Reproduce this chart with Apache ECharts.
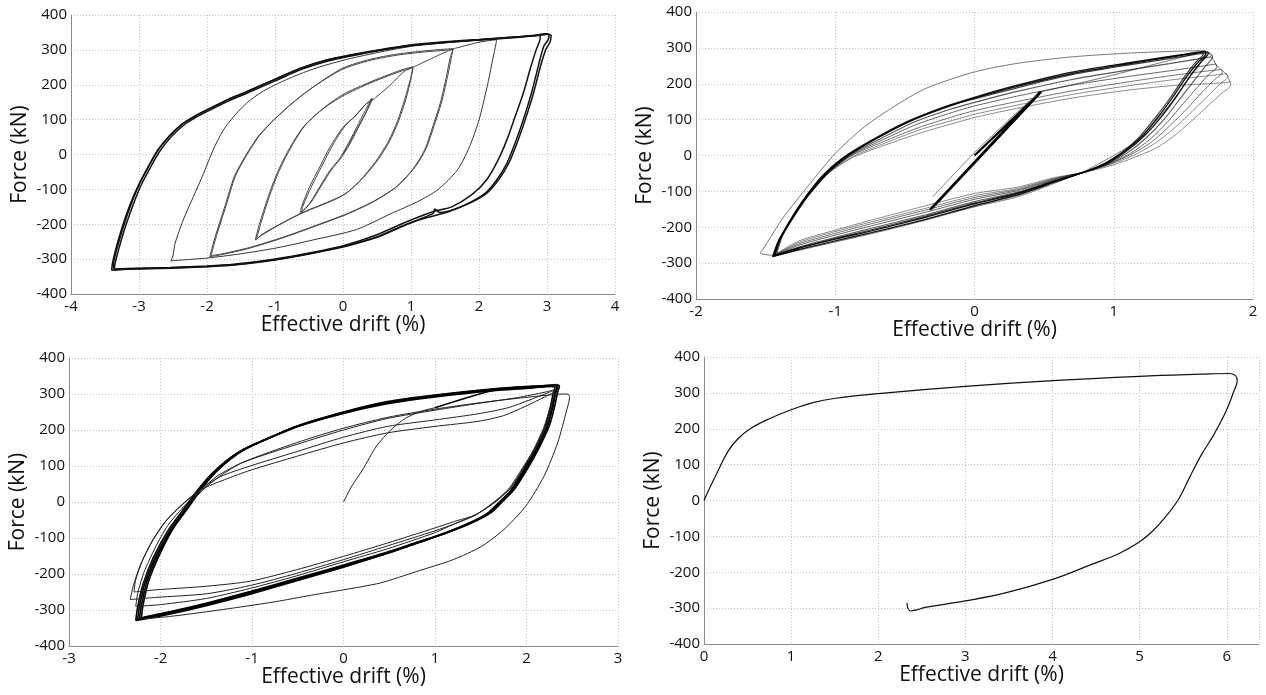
<!DOCTYPE html>
<html>
<head>
<meta charset="utf-8">
<script src="https://cdn.jsdelivr.net/npm/echarts@6/dist/echarts.min.js"></script>
<style>
  html, body { margin: 0; padding: 0; background: #fff; }
  #chart { width: 1266px; height: 695px; }
</style>
</head>
<body>
<div id="chart"></div>
<script>
// ---------- Tick values for each panel ----------
const xTicksA = [-4, -3, -2, -1, 0, 1, 2, 3, 4];
const xTicksB = [-2, -1, 0, 1, 2];
const xTicksC = [-3, -2, -1, 0, 1, 2, 3];
const xTicksD = [0, 1, 2, 3, 4, 5, 6];
const xMaxD = 6.37;
const forceTicks = [-400, -300, -200, -100, 0, 100, 200, 300, 400];

// ---------- Panel A: increasing-amplitude cycles [drift %, force kN] ----------
const aLoop1a = [[0,0],[0.2,70],[0.35,125],[0.42,161],[0.37,142],[0.23,89],[0.08,32],[-0.05,-12],[-0.19,-45],[-0.34,-92],[-0.49,-140],[-0.63,-169],[-0.61,-150],[-0.49,-92],[-0.34,-35],[-0.19,22],[0,78],[0.18,110],[0.32,142],[0.44,160]];
const aLoop1b = [[0.44,160],[0.39,140],[0.25,87],[0.1,30],[-0.03,-10],[-0.17,-44],[-0.32,-90],[-0.47,-137],[-0.61,-167],[-0.59,-148],[-0.46,-90],[-0.31,-33],[-0.16,24],[0.03,82],[0.2,114],[0.34,145],[0.45,158]];
const aLoop2a = [[0.45,158],[0.7,200],[0.9,238],[1.03,250],[0.99,215],[0.91,160],[0.8,95],[0.66,35],[0.48,-20],[0.25,-75],[0.02,-115],[-0.25,-140],[-0.6,-168],[-0.95,-203],[-1.2,-232],[-1.29,-245],[-1.23,-200],[-1.1,-121],[-0.97,-54],[-0.8,13],[-0.58,80],[-0.3,130],[0,168],[0.4,205],[0.7,228],[0.9,242],[1.03,250]];
const aLoop2b = [[1.03,250],[1.0,218],[0.93,162],[0.82,97],[0.68,36],[0.5,-19],[0.27,-72],[0.04,-112],[-0.23,-137],[-0.58,-165],[-0.93,-200],[-1.19,-229],[-1.27,-243],[-1.21,-198],[-1.08,-119],[-0.95,-52],[-0.78,15],[-0.56,83],[-0.28,134],[0,172],[0.4,208],[0.7,231],[0.9,245],[1.05,252]];
const aLoop3a = [[1.05,252],[1.3,275],[1.5,293],[1.62,302],[1.58,281],[1.52,223],[1.43,147],[1.32,80],[1.2,13],[1.02,-44],[0.77,-95],[0.45,-135],[0.05,-172],[-0.4,-205],[-0.9,-240],[-1.4,-270],[-1.8,-288],[-1.96,-293],[-1.88,-236],[-1.74,-150],[-1.6,-64],[-1.44,-6],[-1.25,51],[-1.02,99],[-0.73,150],[-0.39,200],[0,245],[0.4,270],[0.8,285],[1.2,294],[1.5,299],[1.62,302]];
const aLoop3b = [[1.62,302],[1.6,284],[1.54,226],[1.45,150],[1.34,83],[1.22,16],[1.04,-41],[0.79,-92],[0.47,-132],[0.07,-169],[-0.38,-202],[-0.88,-237],[-1.38,-267],[-1.78,-285],[-1.94,-290],[-1.86,-233],[-1.72,-147],[-1.58,-61],[-1.42,-3],[-1.23,54],[-1.0,102],[-0.71,153],[-0.37,203],[0,248],[0.4,273],[0.8,288],[1.2,297],[1.5,302],[1.64,304]];
const aLoop4 = [[1.64,304],[2.0,322],[2.2,328],[2.26,329],[2.25,318],[2.2,271],[2.12,195],[2.0,99],[1.86,22],[1.68,-45],[1.4,-100],[1.1,-135],[0.7,-170],[0.2,-215],[-0.44,-245],[-0.98,-268],[-1.51,-285],[-2.0,-297],[-2.4,-303],[-2.53,-305],[-2.5,-290],[-2.47,-255],[-2.35,-188],[-2.2,-121],[-2.05,-54],[-1.91,13],[-1.76,70],[-1.61,108],[-1.42,147],[-1.17,182],[-0.83,215],[-0.44,245],[0,270],[0.5,292],[1.0,310],[1.5,320],[2.0,328],[2.5,336],[2.85,342]];
const aOuter1 = [[2.85,342],[2.97,346],[3.03,344],[3.02,330],[2.95,309],[2.87,252],[2.77,175],[2.65,99],[2.53,32],[2.41,-25],[2.26,-73],[2.09,-111],[1.84,-140],[1.55,-164],[1.11,-188],[0.86,-207],[0.52,-236],[0.03,-264],[-0.44,-283],[-1.02,-303],[-1.61,-317],[-2.0,-322],[-2.54,-326],[-3.18,-329],[-3.35,-331],[-3.38,-322],[-3.33,-274],[-3.23,-207],[-3.11,-140],[-2.99,-83],[-2.86,-35],[-2.72,13],[-2.54,56],[-2.35,89],[-2.15,113],[-2.0,128],[-1.71,156],[-1.42,180],[-1.02,214],[-0.63,247],[-0.24,271],[0.1,285],[0.5,299],[1.0,314],[1.5,323],[2.0,330],[2.5,337],[2.8,340],[2.9,342]];
const aOuter2 = [[2.9,342],[2.9,333],[2.84,300],[2.76,250],[2.65,175],[2.53,108],[2.41,42],[2.28,-16],[2.11,-73],[1.89,-116],[1.6,-150],[1.35,-162],[1.1,-180],[0.85,-200],[0.5,-230],[0.03,-260],[-0.44,-280],[-1.02,-300],[-1.61,-315],[-2.0,-320],[-2.54,-324],[-3.18,-327],[-3.36,-328],[-3.36,-325],[-3.31,-280],[-3.21,-213],[-3.09,-146],[-2.97,-88],[-2.84,-40],[-2.7,8],[-2.52,52],[-2.33,86],[-2.13,110],[-1.98,125],[-1.69,153],[-1.4,177],[-1.0,211],[-0.61,244],[-0.22,268],[0.1,282],[0.5,297],[1.0,312],[1.5,321],[2.0,328],[2.5,335],[2.85,342],[3.0,345],[3.06,343]];
const aOuter3 = [[3.06,343],[3.05,325],[2.98,300],[2.9,250],[2.8,175],[2.68,100],[2.56,33],[2.44,-24],[2.29,-72],[2.12,-110],[1.88,-138],[1.58,-161],[1.42,-166],[1.35,-156],[1.33,-168],[1.12,-186],[0.87,-205],[0.53,-234],[0.04,-262],[-0.43,-282],[-1.01,-302],[-1.6,-316],[-2.0,-321],[-2.54,-325],[-3.18,-328],[-3.4,-332],[-3.4,-328],[-3.35,-278],[-3.25,-210],[-3.13,-143],[-3.0,-85],[-2.87,-37],[-2.73,11],[-2.55,54],[-2.36,88],[-2.16,112],[-2.01,127],[-1.72,155],[-1.43,179],[-1.03,213],[-0.64,246],[-0.25,270],[0.1,284],[0.5,298],[1.0,313],[1.5,322],[2.0,329],[2.5,336],[2.9,343],[2.98,344]];

// ---------- Panel B: constant-amplitude cycles with strength decay ----------
const bElastic = [[0,0],[0.48,178],[-0.32,-151],[0.47,176],[-0.31,-149],[0.48,178],[-0.32,-151],[0.47,177]];
const bElasticThin = [[-0.3,-115],[0,8],[0.2,82],[0.36,140],[0.45,168]];
const bFirst = [[0.47,177],[0.9,215],[1.3,255],[1.5,275],[1.6,286],[1.65,289],[1.66,280],[1.6,250],[1.52,205],[1.42,150],[1.3,95],[1.16,40],[1.0,0],[0.85,-32],[0.78,-46],[0.57,-78],[0.31,-115],[0,-143],[-0.35,-180],[-0.74,-218],[-1.0,-241],[-1.26,-264],[-1.45,-278],[-1.54,-272],[-1.52,-262],[-1.37,-171],[-1.18,-78],[-1.0,6],[-0.79,80],[-0.58,136],[-0.35,187],[0,233],[0.31,257],[0.7,275],[1.09,285],[1.4,290],[1.61,292],[1.67,290]];
const bCycle1 = [[1.67,290],[1.68,286],[1.63,262],[1.55,222],[1.46,170],[1.35,112],[1.22,55],[1.09,12],[0.96,-20],[0.8,-44],[0.57,-75],[0.31,-110],[0,-140],[-0.35,-178],[-0.74,-215],[-1.0,-238],[-1.26,-262],[-1.45,-282],[-1.41,-240],[-1.33,-185],[-1.24,-130],[-1.1,-60],[-0.95,-8],[-0.75,40],[-0.48,95],[-0.22,135],[0,162],[0.3,195],[0.7,232],[1.1,258],[1.4,276],[1.6,288],[1.66,291]];
const bCycle2 = [[1.66,291],[1.66,283],[1.6,258],[1.52,218],[1.43,166],[1.32,108],[1.2,52],[1.07,10],[0.95,-20],[0.8,-45],[0.57,-73],[0.31,-106],[0,-135],[-0.35,-172],[-0.74,-210],[-1.0,-233],[-1.26,-258],[-1.44,-280],[-1.4,-236],[-1.32,-180],[-1.23,-125],[-1.08,-55],[-0.93,-5],[-0.73,42],[-0.46,96],[-0.2,135],[0,160],[0.3,192],[0.7,228],[1.1,255],[1.4,274],[1.6,286],[1.65,289]];
const bCycle3 = [[1.65,289],[1.64,280],[1.58,256],[1.5,215],[1.41,163],[1.3,106],[1.18,50],[1.06,9],[0.94,-21],[0.8,-45],[0.57,-72],[0.31,-104],[0,-132],[-0.35,-169],[-0.74,-207],[-1.0,-231],[-1.26,-257],[-1.44,-281],[-1.4,-238],[-1.32,-182],[-1.22,-124],[-1.07,-54],[-0.92,-4],[-0.72,44],[-0.45,99],[-0.19,138],[0,158],[0.3,188],[0.7,225],[1.1,252],[1.4,270],[1.62,284],[1.68,287]];
const bCycle4 = [[1.68,287],[1.71,275],[1.65,245],[1.57,205],[1.47,155],[1.36,100],[1.23,48],[1.1,8],[0.96,-22],[0.8,-45],[0.57,-70],[0.31,-102],[0,-128],[-0.35,-165],[-0.74,-203],[-1.0,-228],[-1.26,-255],[-1.44,-279],[-1.4,-233],[-1.31,-175],[-1.21,-118],[-1.06,-50],[-0.9,0],[-0.7,42],[-0.44,92],[-0.18,128],[0,148],[0.3,178],[0.7,212],[1.1,238],[1.4,256],[1.62,270],[1.7,275]];
const bCycle5 = [[1.7,275],[1.74,247],[1.68,225],[1.6,190],[1.5,145],[1.39,95],[1.26,45],[1.12,6],[0.97,-22],[0.8,-45],[0.57,-68],[0.31,-98],[0,-122],[-0.35,-158],[-0.74,-196],[-1.0,-222],[-1.26,-250],[-1.43,-278],[-1.39,-230],[-1.3,-172],[-1.2,-115],[-1.05,-48],[-0.89,0],[-0.68,40],[-0.42,86],[-0.16,120],[0,138],[0.3,165],[0.7,196],[1.1,220],[1.4,236],[1.65,250],[1.73,255]];
const bCycle6 = [[1.73,255],[1.78,232],[1.72,210],[1.63,175],[1.53,132],[1.41,86],[1.28,40],[1.13,4],[0.98,-22],[0.8,-45],[0.57,-66],[0.31,-95],[0,-117],[-0.35,-152],[-0.74,-190],[-1.0,-217],[-1.26,-246],[-1.43,-276],[-1.39,-228],[-1.3,-170],[-1.2,-113],[-1.05,-47],[-0.88,0],[-0.67,36],[-0.4,78],[-0.14,110],[0,125],[0.3,150],[0.7,180],[1.1,205],[1.4,222],[1.68,236],[1.77,240]];
const bCycle7 = [[1.77,240],[1.82,220],[1.76,198],[1.67,164],[1.56,122],[1.44,78],[1.3,35],[1.15,2],[0.99,-23],[0.8,-45],[0.57,-64],[0.31,-92],[0,-112],[-0.35,-147],[-0.74,-185],[-1.0,-212],[-1.26,-242],[-1.42,-275],[-1.38,-226],[-1.29,-168],[-1.19,-112],[-1.04,-47],[-0.87,-2],[-0.66,32],[-0.39,72],[-0.12,102],[0,115],[0.3,140],[0.7,170],[1.1,194],[1.4,210],[1.72,224],[1.81,228]];
const bCycle8 = [[1.81,228],[1.84,196],[1.78,175],[1.68,140],[1.57,100],[1.45,60],[1.31,22],[1.15,-5],[0.99,-27],[0.8,-46],[0.57,-62],[0.31,-88],[0,-106],[-0.35,-140],[-0.74,-180],[-1.0,-208],[-1.26,-238],[-1.42,-273],[-1.38,-224],[-1.29,-166],[-1.19,-110],[-1.04,-46],[-0.86,-3],[-0.65,28],[-0.38,64],[-0.1,95],[0,106],[0.3,131],[0.7,160],[1.1,182],[1.4,194],[1.75,202],[1.84,205]];

// ---------- Panel C: repeated cycles at about ±2.3 % ----------
const cInitial = [[0,0],[0.09,44],[0.21,90],[0.36,155],[0.52,201],[0.68,233],[0.85,252],[1.0,262]];
const cOuter1 = [[1.0,262],[1.67,312],[2.07,319],[2.3,323],[2.34,321],[2.32,303],[2.29,266],[2.23,210],[2.11,145],[1.99,90],[1.85,34],[1.71,-3],[1.59,-31],[1.39,-58],[1.12,-86],[0.8,-114],[0.48,-142],[0,-179],[-0.51,-216],[-1.02,-253],[-1.5,-285],[-1.89,-308],[-2.17,-322],[-2.25,-327],[-2.23,-290],[-2.17,-225],[-2.05,-151],[-1.89,-77],[-1.73,-21],[-1.58,34],[-1.42,81],[-1.26,118],[-1.1,145],[-0.86,173],[-0.51,210],[0,247],[0.48,275],[1.0,294],[1.67,312],[2.07,319],[2.28,321]];
const cOuter2 = [[2.28,321],[2.31,317],[2.29,300],[2.26,262],[2.2,206],[2.08,140],[1.96,85],[1.82,30],[1.68,-6],[1.56,-34],[1.36,-60],[1.1,-87],[0.8,-112],[0.48,-139],[0,-175],[-0.51,-212],[-1.02,-249],[-1.5,-281],[-1.89,-304],[-2.15,-318],[-2.21,-322],[-2.19,-285],[-2.13,-220],[-2.01,-146],[-1.86,-73],[-1.7,-17],[-1.55,37],[-1.39,84],[-1.23,120],[-1.07,147],[-0.83,175],[-0.48,211],[0,246],[0.48,273],[1.0,292],[1.67,310],[2.07,317],[2.33,326]];
const cOuter3 = [[2.33,326],[2.36,322],[2.34,305],[2.31,268],[2.25,212],[2.13,147],[2.01,92],[1.87,36],[1.73,-1],[1.61,-30],[1.41,-57],[1.14,-85],[0.82,-113],[0.5,-141],[0,-181],[-0.51,-219],[-1.02,-256],[-1.5,-288],[-1.89,-311],[-2.17,-325],[-2.27,-329],[-2.25,-292],[-2.19,-228],[-2.08,-155],[-1.92,-80],[-1.76,-24],[-1.6,31],[-1.44,78],[-1.28,115],[-1.12,142],[-0.88,171],[-0.53,208],[0,250],[0.48,279],[1.0,297],[1.67,315],[2.07,322],[2.32,325]];
const cOuter4 = [[2.32,325],[2.33,318],[2.31,300],[2.28,264],[2.22,208],[2.1,143],[1.98,88],[1.84,32],[1.7,-4],[1.58,-32],[1.38,-59],[1.11,-86],[0.81,-113],[0.49,-140],[0,-177],[-0.51,-214],[-1.02,-251],[-1.5,-283],[-1.89,-306],[-2.16,-320],[-2.23,-324],[-2.21,-288],[-2.15,-222],[-2.03,-148],[-1.88,-75],[-1.72,-19],[-1.57,35],[-1.41,82],[-1.25,119],[-1.09,146],[-0.85,174],[-0.5,212],[0,249],[0.48,277],[1.0,296],[1.67,314],[2.07,321],[2.31,324]];
const cInner1 = [[2.32,325],[2.3,305],[2.28,270],[2.22,215],[2.1,150],[1.97,95],[1.83,40],[1.65,0],[1.45,-35],[1.2,-55],[1.0,-72],[0.48,-114],[0,-151],[-0.51,-188],[-1.02,-220],[-1.5,-234],[-2.05,-244],[-2.29,-250],[-2.27,-215],[-2.2,-165],[-2.08,-105],[-1.93,-50],[-1.75,-5],[-1.55,35],[-1.3,62],[-1.02,88],[-0.51,127],[0,164],[0.48,192],[1.0,210],[1.47,224],[1.75,240],[1.99,266],[2.2,292],[2.3,305]];
const cInner2 = [[2.3,305],[2.3,300],[2.26,265],[2.19,208],[2.07,142],[1.94,88],[1.8,35],[1.63,-3],[1.43,-38],[1.2,-62],[1.0,-80],[0.48,-122],[0,-160],[-0.51,-198],[-1.02,-232],[-1.5,-255],[-2.05,-265],[-2.33,-271],[-2.3,-235],[-2.22,-175],[-2.1,-112],[-1.95,-55],[-1.77,-8],[-1.58,32],[-1.35,70],[-1.02,100],[-0.51,140],[0,180],[0.48,210],[1.0,228],[1.47,245],[1.8,262],[2.05,285],[2.28,308]];
const cInner3 = [[2.28,308],[2.31,305],[2.28,275],[2.22,218],[2.1,152],[1.97,96],[1.83,40],[1.66,0],[1.46,-33],[1.2,-62],[1.0,-85],[0.48,-130],[0,-166],[-0.51,-205],[-1.02,-240],[-1.5,-268],[-2.0,-285],[-2.27,-290],[-2.25,-255],[-2.18,-195],[-2.06,-128],[-1.92,-65],[-1.75,-14],[-1.57,30],[-1.38,72],[-1.1,110],[-0.51,160],[0,200],[0.48,232],[1.0,255],[1.5,275],[1.9,290],[2.2,305],[2.3,312]];
const cWide = [[-2.25,-300],[-2.22,-260],[-2.15,-200],[-2.03,-135],[-1.9,-75],[-1.73,-20],[-1.55,30],[-1.35,72],[-1.1,110],[-0.51,165],[0,205],[0.48,235],[1.0,258],[1.5,276],[1.9,288],[2.2,296],[2.4,300],[2.46,299],[2.47,290],[2.44,256],[2.34,164],[2.19,71],[1.99,-12],[1.75,-77],[1.51,-123],[1.2,-160],[0.8,-193],[0.4,-225],[0,-244],[-0.31,-257],[-0.7,-275],[-1.0,-287],[-1.5,-305],[-1.9,-318],[-2.2,-325]];

// ---------- Panel D: single large excursion ----------
const dPath = [[0,0],[0.065,35],[0.16,82],[0.275,137],[0.39,172],[0.53,200],[0.75,228],[1.0,253],[1.25,273],[1.51,285],[2.0,298],[3.0,318],[4.0,334],[5.0,346],[5.71,352],[6.03,354],[6.1,348],[6.12,334],[6.08,304],[5.99,248],[5.85,183],[5.71,128],[5.57,63],[5.45,5],[5.3,-45],[5.15,-85],[5.0,-115],[4.77,-147],[4.45,-178],[4.0,-220],[3.47,-257],[3.0,-280],[2.54,-298],[2.44,-305],[2.37,-308],[2.34,-300],[2.33,-286]];

// ---------- Drawing ----------
const FONT = '"Open Sans", "DejaVu Sans", sans-serif';
const gridBoxes = [
  { left: 71,  top: 15,  width: 544, height: 279 },
  { left: 696, top: 12,  width: 557, height: 287 },
  { left: 69,  top: 358, width: 549, height: 288 },
  { left: 704, top: 357, width: 555, height: 287 }
];
const xRanges = [
  [xTicksA[0], xTicksA[xTicksA.length - 1]],
  [xTicksB[0], xTicksB[xTicksB.length - 1]],
  [xTicksC[0], xTicksC[xTicksC.length - 1]],
  [xTicksD[0], xMaxD]
];

const axisLineStyle = { show: true, onZero: false, lineStyle: { color: '#8a8a8a', width: 1 } };
const splitStyle = { show: true, lineStyle: { color: '#c4c4c4', width: 1, type: [1, 2] } };
const labelStyle = { color: '#111', fontSize: 15, fontFamily: FONT };

const xAxes = xRanges.map((r, i) => ({
  type: 'value', gridIndex: i, min: r[0], max: r[1], interval: 1,
  axisLine: axisLineStyle, axisTick: { show: false }, splitLine: splitStyle,
  axisLabel: Object.assign({ margin: 5, showMaxLabel: i !== 3 }, labelStyle),
  name: 'Effective drift (%)', nameLocation: 'middle', nameGap: 20,
  nameTextStyle: { color: '#111', fontSize: 21, fontFamily: FONT }
}));
const yAxes = gridBoxes.map((g, i) => ({
  type: 'value', gridIndex: i, min: forceTicks[0], max: forceTicks[forceTicks.length - 1], interval: 100,
  axisLine: axisLineStyle, axisTick: { show: false }, splitLine: splitStyle,
  axisLabel: Object.assign({ margin: 4 }, labelStyle),
  name: 'Force (kN)', nameLocation: 'middle', nameGap: 40,
  nameTextStyle: { color: '#111', fontSize: 21, fontFamily: FONT }
}));

function curve(data, gi, width, color, smooth) {
  return {
    type: 'line', xAxisIndex: gi, yAxisIndex: gi, data: data,
    showSymbol: false, symbol: 'none', smooth: smooth === undefined ? 0.25 : smooth, silent: true,
    lineStyle: { width: width, color: color }
  };
}

const series = [
  // Panel A
  curve(aLoop1a, 0, 1, '#444'), curve(aLoop1b, 0, 1, '#444'),
  curve(aLoop2a, 0, 1, '#444'), curve(aLoop2b, 0, 1, '#444'),
  curve(aLoop3a, 0, 1, '#444'), curve(aLoop3b, 0, 1, '#444'),
  curve(aLoop4, 0, 1, '#333'),
  curve(aOuter1, 0, 1.5, '#111'), curve(aOuter2, 0, 1.5, '#111'), curve(aOuter3, 0, 1.5, '#111'),
  // Panel B
  curve(bElastic, 1, 2.2, '#000'), curve(bElasticThin, 1, 0.8, '#666'),
  curve(bFirst, 1, 0.8, '#555'),
  curve(bCycle1, 1, 1.4, 'rgba(0,0,0,0.9)'), curve(bCycle2, 1, 1.4, 'rgba(0,0,0,0.9)'),
  curve(bCycle3, 1, 1.2, 'rgba(0,0,0,0.75)'), curve(bCycle4, 1, 1.1, 'rgba(0,0,0,0.65)'),
  curve(bCycle5, 1, 1, 'rgba(0,0,0,0.6)'), curve(bCycle6, 1, 1, 'rgba(0,0,0,0.55)'),
  curve(bCycle7, 1, 0.9, 'rgba(0,0,0,0.5)'), curve(bCycle8, 1, 0.9, 'rgba(0,0,0,0.5)'),
  // Panel C
  curve(cInitial, 2, 1, '#222'),
  curve(cOuter1, 2, 1.6, '#000'), curve(cOuter2, 2, 1.6, '#000'),
  curve(cOuter3, 2, 1.6, '#000'), curve(cOuter4, 2, 1.6, '#000'),
  curve(cInner1, 2, 1, '#222'), curve(cInner2, 2, 1, '#222'), curve(cInner3, 2, 1, '#222'),
  curve(cWide, 2, 1, '#222'),
  // Panel D
  curve(dPath, 3, 1.2, '#111', 0.4)
];

const chart = echarts.init(document.getElementById('chart'), null, { renderer: 'canvas' });
chart.setOption({
  animation: false,
  backgroundColor: '#ffffff',
  grid: gridBoxes,
  xAxis: xAxes,
  yAxis: yAxes,
  series: series
});
</script>
</body>
</html>
